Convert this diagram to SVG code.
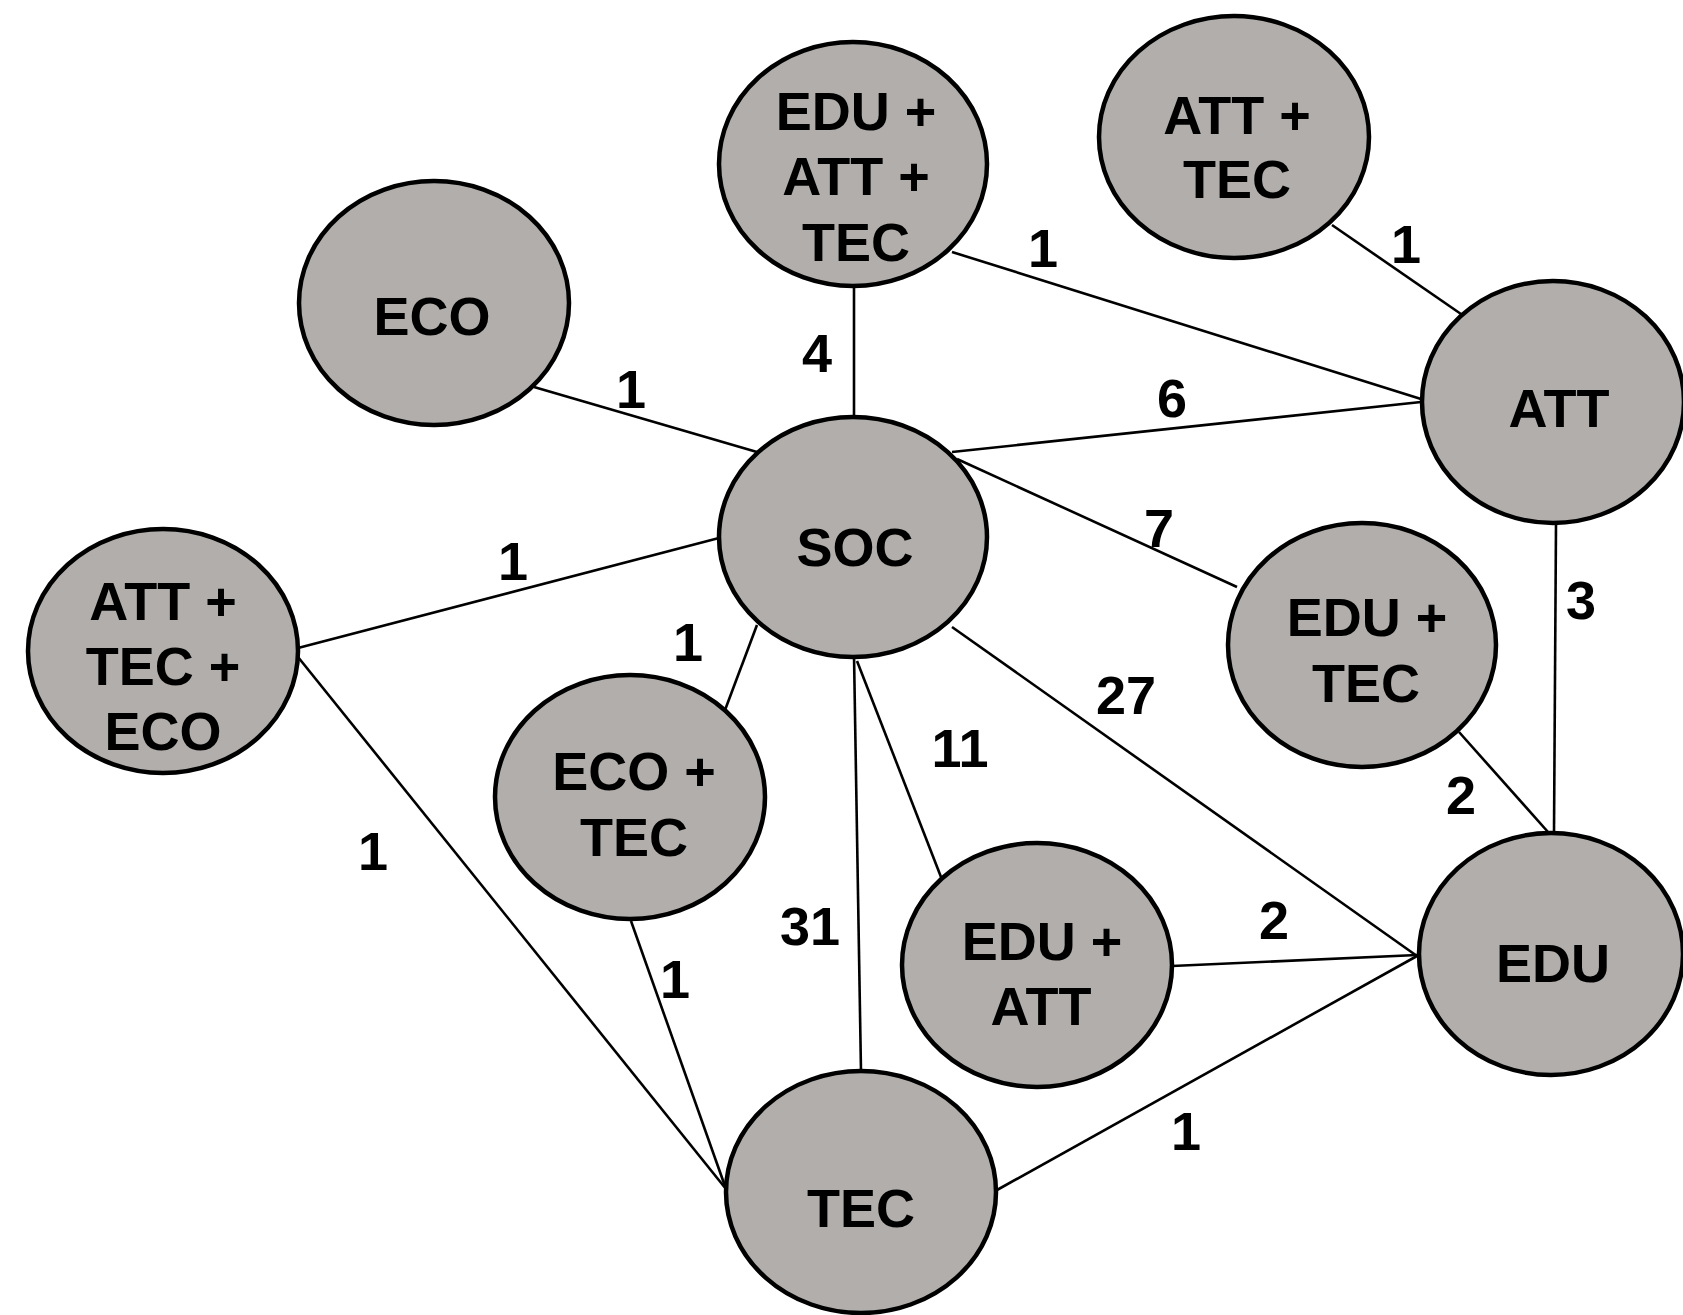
<svg xmlns="http://www.w3.org/2000/svg" width="1683" height="1315" viewBox="0 0 1683 1315">
<style>
.edge{stroke:#000;stroke-width:2.6;fill:none}
.node{fill:#b1aeac;stroke:#000;stroke-width:4.5}
text{font-family:"Liberation Sans",Arial,sans-serif;font-weight:bold;font-size:54px;fill:#000;text-anchor:middle}
</style>
<rect width="1683" height="1315" fill="#fff"/>
<g id="connectors">
<line class="edge" x1="854" y1="286" x2="854" y2="418"/>
<line class="edge" x1="952" y1="252" x2="1421" y2="399"/>
<line class="edge" x1="1332" y1="225" x2="1461" y2="314"/>
<line class="edge" x1="534" y1="387" x2="757" y2="452"/>
<line class="edge" x1="952" y1="452" x2="1421" y2="402"/>
<line class="edge" x1="957" y1="459" x2="1237" y2="587"/>
<line class="edge" x1="298" y1="648" x2="719" y2="538"/>
<line class="edge" x1="757" y1="625" x2="725" y2="710"/>
<line class="edge" x1="298" y1="657" x2="726" y2="1189"/>
<line class="edge" x1="631" y1="921" x2="726" y2="1189"/>
<line class="edge" x1="854" y1="655" x2="861" y2="1072"/>
<line class="edge" x1="857" y1="661" x2="941" y2="877"/>
<line class="edge" x1="952" y1="627" x2="1417" y2="956"/>
<line class="edge" x1="1459" y1="732" x2="1548" y2="832"/>
<line class="edge" x1="1556" y1="524" x2="1554" y2="832"/>
<line class="edge" x1="1172" y1="966" x2="1417" y2="955"/>
<line class="edge" x1="997" y1="1190" x2="1417" y2="956"/>
</g>
<g id="edge-labels">
<text x="817" y="372">4</text>
<text x="1043" y="267">1</text>
<text x="1406" y="263">1</text>
<text x="631" y="408">1</text>
<text x="1172" y="417">6</text>
<text x="1159" y="547">7</text>
<text x="513" y="580">1</text>
<text x="688" y="661">1</text>
<text x="373" y="870">1</text>
<text x="675" y="998">1</text>
<text x="810" y="945">31</text>
<text x="960" y="767">11</text>
<text x="1126" y="714">27</text>
<text x="1461" y="814">2</text>
<text x="1581" y="619">3</text>
<text x="1274" y="939">2</text>
<text x="1186" y="1150">1</text>
</g>
<g id="node-edu-att-tec">
<ellipse class="node" cx="853" cy="164" rx="134" ry="122"/>
<text x="856" y="130">EDU +</text>
<text x="856" y="195">ATT +</text>
<text x="856" y="261">TEC</text>
</g>
<g id="node-att-tec">
<ellipse class="node" cx="1234" cy="137" rx="135" ry="121"/>
<text x="1237" y="134">ATT +</text>
<text x="1237" y="198">TEC</text>
</g>
<g id="node-eco">
<ellipse class="node" cx="434" cy="303" rx="135" ry="122"/>
<text x="432" y="335">ECO</text>
</g>
<g id="node-att">
<ellipse class="node" cx="1553" cy="402" rx="131" ry="121"/>
<text x="1559" y="427">ATT</text>
</g>
<g id="node-soc">
<ellipse class="node" cx="853" cy="537" rx="134" ry="120"/>
<text x="855" y="566">SOC</text>
</g>
<g id="node-att-tec-eco">
<ellipse class="node" cx="163" cy="651" rx="135" ry="122"/>
<text x="163" y="620">ATT +</text>
<text x="163" y="685">TEC +</text>
<text x="163" y="750">ECO</text>
</g>
<g id="node-edu-tec">
<ellipse class="node" cx="1362" cy="645" rx="134" ry="122"/>
<text x="1367" y="636">EDU +</text>
<text x="1366" y="702">TEC</text>
</g>
<g id="node-eco-tec">
<ellipse class="node" cx="630" cy="797" rx="135" ry="122"/>
<text x="634" y="790">ECO +</text>
<text x="634" y="856">TEC</text>
</g>
<g id="node-edu-att">
<ellipse class="node" cx="1037" cy="965" rx="135" ry="122"/>
<text x="1042" y="960">EDU +</text>
<text x="1041" y="1025">ATT</text>
</g>
<g id="node-edu">
<ellipse class="node" cx="1551" cy="954" rx="132" ry="121"/>
<text x="1553" y="982">EDU</text>
</g>
<g id="node-tec">
<ellipse class="node" cx="861" cy="1192" rx="135" ry="121"/>
<text x="861" y="1227">TEC</text>
</g>
</svg>
